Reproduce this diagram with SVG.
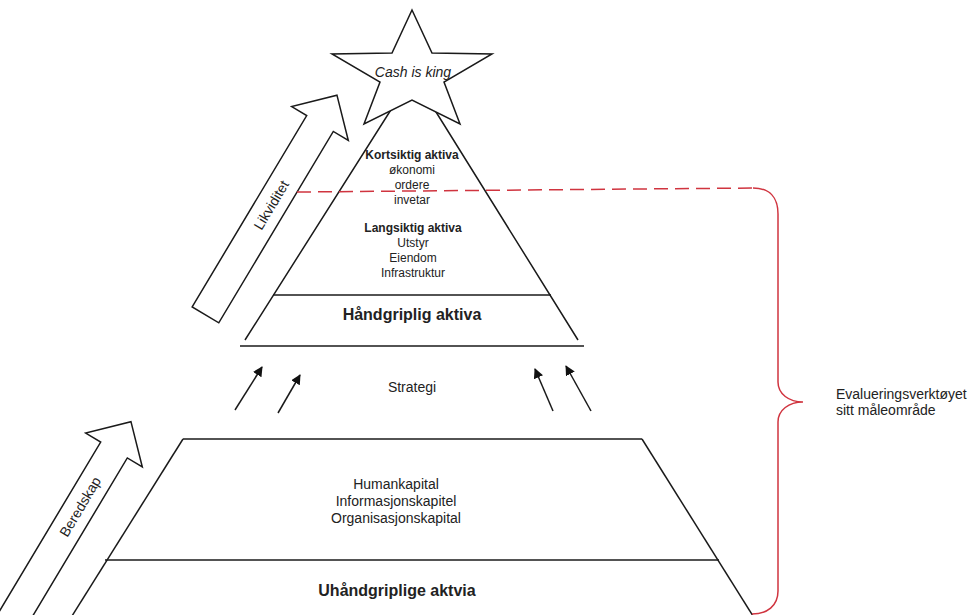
<svg xmlns="http://www.w3.org/2000/svg" width="971" height="615" viewBox="0 0 971 615">
  <style>
    .ln { fill: none; stroke: #1a1a1a; stroke-width: 1.5; }
    .shape { fill: #ffffff; stroke: #1a1a1a; stroke-width: 1.5; stroke-linejoin: miter; }
    .red { fill: none; stroke: #d0343f; stroke-width: 1.5; }
    .t { font-family: "Liberation Sans", Arial, sans-serif; fill: #222222; text-anchor: middle; }
    .s12 { font-size: 12px; }
    .s14 { font-size: 14px; }
    .b12 { font-size: 12px; font-weight: bold; }
    .b16 { font-size: 16px; font-weight: bold; }
  </style>
  <defs>
    <marker id="head" viewBox="0 0 10 10" refX="9" refY="5" markerWidth="10" markerHeight="10" markerUnits="userSpaceOnUse" orient="auto">
      <path d="M0,0 L10,5 L0,10 z" fill="#111111"/>
    </marker>
  </defs>
  <rect width="971" height="615" fill="#ffffff"/>

  <!-- Tangible assets: triangle with base band -->
  <g id="tangible">
    <polyline class="ln" points="245,340 413,75 578,340"/>
    <line class="ln" x1="273" y1="295" x2="551" y2="295"/>
    <line class="ln" x1="240" y1="346" x2="584" y2="346"/>
    <text class="t b12" x="412" y="159">Kortsiktig aktiva</text>
    <text class="t s12" x="412" y="174">økonomi</text>
    <text class="t s12" x="412" y="189">ordere</text>
    <text class="t s12" x="412" y="204">invetar</text>
    <text class="t b12" x="413" y="232">Langsiktig aktiva</text>
    <text class="t s12" x="413" y="247">Utstyr</text>
    <text class="t s12" x="413" y="262">Eiendom</text>
    <text class="t s12" x="413" y="277">Infrastruktur</text>
    <text class="t b16" x="412" y="320">Håndgriplig aktiva</text>
  </g>

  <!-- Star on top of the pyramid -->
  <g id="star">
    <polygon class="shape" points="412,10 432,53 492,54 444,82 460,124 412,100 364,124 380,82 332,54 392,53"/>
    <text class="t s14" x="413" y="77" font-style="italic">Cash is king</text>
  </g>

  <!-- Intangible assets: lower trapezoid -->
  <g id="intangible">
    <line class="ln" x1="183" y1="439" x2="642" y2="439"/>
    <line class="ln" x1="183" y1="439" x2="72" y2="616"/>
    <line class="ln" x1="642" y1="439" x2="753" y2="616"/>
    <line class="ln" x1="105" y1="560" x2="719" y2="560"/>
    <text class="t s14" x="396" y="489">Humankapital</text>
    <text class="t s14" x="396" y="506">Informasjonskapitel</text>
    <text class="t s14" x="396" y="523">Organisasjonskapital</text>
    <text class="t b16" x="397" y="596">Uhåndgriplige aktvia</text>
  </g>

  <!-- Strategy label between the two levels -->
  <g id="strategy">
    <text class="t s14" x="412" y="392">Strategi</text>
  </g>

  <!-- Block arrow: liquidity -->
  <g id="likviditet" transform="translate(320,123.5) rotate(-59.1)">
    <polygon class="shape" points="-223,-15.5 0,-15.5 0,-33 33,0 0,33 0,15.5 -223,15.5"/>
    <text class="t s14" x="-95" y="5">Likviditet</text>
  </g>

  <!-- Block arrow: preparedness -->
  <g id="beredskap" transform="translate(114,450) rotate(-59.1)">
    <polygon class="shape" points="-240,-15.5 0,-15.5 0,-33 33,0 0,33 0,15.5 -240,15.5"/>
    <text class="t s14" x="-66" y="5">Beredskap</text>
  </g>

  <!-- Measurement range: dashed cut line and brace -->
  <g id="scope">
    <line class="red" x1="297" y1="192" x2="753" y2="188" stroke-dasharray="14 7"/>
    <path class="red" d="M753,188 C770,188 778,198 778,214 L778,382 C778,394 789,402 803,402 C789,402 778,410 778,422 L778,591 C778,606 767,614 752,614"/>
    <text class="t s14" x="836" y="399" text-anchor="start" style="text-anchor:start">Evalueringsverktøyet</text>
    <text class="t s14" x="836" y="415" text-anchor="start" style="text-anchor:start">sitt måleområde</text>
  </g>

  <!-- Strategy arrows from the intangible base up to the tangible level -->
  <g id="connectors" class="ln">
    <line x1="235" y1="410" x2="262" y2="367" marker-end="url(#head)"/>
    <line x1="278" y1="413" x2="300" y2="375" marker-end="url(#head)"/>
    <line x1="553" y1="411" x2="535" y2="369" marker-end="url(#head)"/>
    <line x1="591" y1="411" x2="566" y2="366" marker-end="url(#head)"/>
  </g>
</svg>
